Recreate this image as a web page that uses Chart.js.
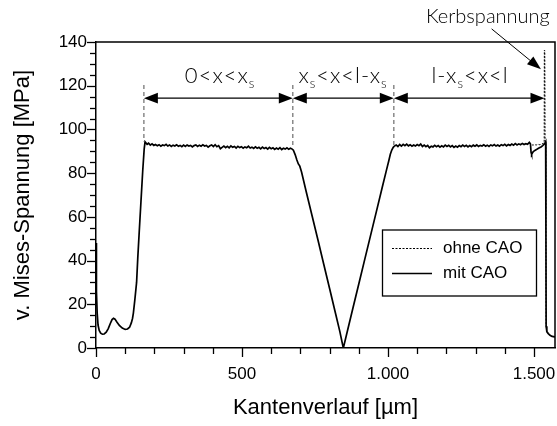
<!DOCTYPE html>
<html>
<head>
<meta charset="utf-8">
<script src="https://cdn.jsdelivr.net/npm/chart.js@4.4.1/dist/chart.umd.min.js"></script>
<style>
  html, body { margin: 0; padding: 0; background: #fff; }
  canvas { display: block; }
</style>
</head>
<body>
<canvas id="chart" width="557" height="426"></canvas>
<script>
// ---- Data: von-Mises stress along the edge [µm, MPa] ----
// "mit CAO": start-up region near x = 0
const mitStart = [
  [0,48],[1,36],[2,26],[4,16],[7,10.5],[11,8],[16,6.8],[22,6.3],[28,6.4],[35,7.2],[42,8.9],
  [49,11.2],[55,13.0],[60,13.6],[65,13.2],[72,11.8],[80,10.3],[90,9.1],[100,8.5],[108,8.7],
  [115,9.5],[121,11.5],[125,13.5],[128,16],[133,22],[139,30],[143,41],[148,53],[154,67],
  [160,81],[165,91],[168,94.3]
];
// "mit CAO": first plateau 0 < x < xs
const mitPlateau1 = [
  [175,93.2],[180,93.7],[186,92.8],[192,93.4],[198,92.7],[204,93.1],[210,92.5],[216,93.0],
  [222,92.3],[228,92.9],[234,92.6],[240,93.2],[246,92.4],[252,92.9],[258,92.2],[264,92.8],
  [270,92.4],[276,93.0],[282,92.3],[288,92.7],[294,92.1],[300,92.8],[306,92.2],[312,92.9],
  [318,92.4],[324,92.7],[330,92.0],[336,92.6],[342,92.9],[348,92.2],[354,92.8],[360,92.3],
  [366,93.0],[372,92.4],[378,92.7],[384,91.9],[390,92.5],[396,92.9],[402,92.2],[408,93.0],
  [414,92.1],[420,92.6],[426,91.2],[432,91.8],[438,92.4],[444,91.7],[450,92.3],[456,91.6],
  [462,92.5],[468,91.8],[474,92.2],[480,91.5],[486,92.3],[492,91.7],[498,92.1],[504,91.4],
  [510,92.0],[516,91.6],[522,92.3],[528,91.5],[534,91.9],[540,91.3],[546,92.0],[552,91.4],
  [558,91.8],[564,91.1],[570,91.9],[576,91.3],[582,91.7],[588,91.0],[594,91.8],[600,91.2],
  [606,91.6],[612,90.9],[618,91.5],[624,91.0],[630,91.7],[636,90.8],[642,91.4],[648,91.0],
  [654,91.6],[660,90.9],[666,91.4],[672,91.0]
];
// "mit CAO": V-shaped drop xs < x < l - xs
const mitNotch = [
  [676,90.5],[682,88.5],[688,86],[693,84.2],[698,83.2],[704,80.5],[720,71.5],[740,60.5],
  [760,49.5],[780,38.3],[800,27.2],[820,16],[835,7.6],[846,0.6],[848,0.5],[860,7.2],
  [880,18.3],[900,29.3],[920,40.3],[940,51.3],[960,62.3],[980,73.3],[995,81.5],[1003,85.8],
  [1008,88.6],[1013,90.6],[1018,91.8],[1022,92.4]
];
// "mit CAO": second plateau l - xs < x < l
const mitPlateau2 = [
  [1028,92.9],[1034,92.2],[1040,93.1],[1046,92.4],[1052,93.2],[1058,92.6],[1064,93.3],[1070,92.5],
  [1076,93.0],[1082,92.3],[1088,92.9],[1094,92.4],[1100,93.1],[1106,92.6],[1112,93.3],[1118,92.2],
  [1124,92.8],[1130,92.1],[1136,92.7],[1142,91.6],[1148,92.3],[1154,92.0],[1160,92.7],[1166,92.1],
  [1172,92.6],[1178,91.9],[1184,92.5],[1190,92.0],[1196,92.8],[1202,92.2],[1208,92.7],[1214,92.0],
  [1220,92.6],[1226,91.8],[1232,92.4],[1238,91.9],[1244,92.6],[1250,92.1],[1256,92.8],[1262,92.2],
  [1268,92.7],[1274,92.0],[1280,92.6],[1286,92.1],[1292,92.8],[1298,92.3],[1304,92.9],[1310,92.2],
  [1316,92.7],[1322,92.4],[1328,93.0],[1334,92.3],[1340,92.8],[1346,92.2],[1352,92.9],[1358,92.5],
  [1364,93.1],[1370,92.4],[1376,92.9],[1382,92.3],[1388,93.0],[1394,92.6],[1400,93.2],[1406,92.5],
  [1412,93.1],[1418,92.7],[1424,93.3],[1430,92.8],[1436,93.5],[1442,92.9],[1448,93.4],[1454,93.0],
  [1460,93.6],[1466,93.1],[1472,93.5],[1478,93.2],[1484,94.1],[1488,93.3],[1490,89.5],[1492,88.6],
  [1497,89.8],[1503,90.4],[1510,90.9],[1517,91.5],[1524,92.0],[1530,92.6],[1536,93.4],[1540,94.4]
];
// "mit CAO": free edge at x = l
const mitEdge = [
  [1541,50],[1541.6,10],[1544,7.5],[1549,6.6],[1555,5.8],[1562,5.3],[1572,5.1]
];
// "ohne CAO": differs only at the edge (notch stress peak)
const ohneEdge = [
  [1484,94.1],[1490,93.4],[1496,92.8],[1502,93.0],[1508,92.9],[1514,93.2],[1520,93.0],[1526,93.3],
  [1532,93.6],[1535,94.0],[1535.5,136.3],[1537,136.0],[1538,95],[1540.5,94.4],[1541,50],
  [1541.6,10],[1544,7.5],[1549,6.6],[1555,5.8],[1562,5.3],[1572,5.1]
];

// ---- Axes ----
const xMax = 1572;
const yMax = 140;
const xTickValues = [0, 500, 1000, 1500];
const xTickLabels = ['0', '500', '1.000', '1.500'];
const yTickValues = [0, 20, 40, 60, 80, 100, 120, 140];
const yTickLabels = ['0', '20', '40', '60', '80', '100', '120', '140'];
const xMinorStep = 100;
const yMinorStep = 5;

// ---- Annotations (data units) ----
const sectionBounds = [164, 674, 1020, 1536];  // dashed markers and arrow ends
const arrowLevel = 114.3;
const sectionLabels = [
  { x: 425,  y: 124.8, parts: [['0<x<x', false], ['s', true]] },
  { x: 846,  y: 124.8, parts: [['x', false], ['s', true], ['<x<l-x', false], ['s', true]] },
  { x: 1281, y: 124.8, parts: [['l-x', false], ['s', true], ['<x<l', false]] }
];
const notchLabel = { text: 'Kerbspannung', x: 1342, y: 151.5 };
const notchArrow = { x1: 1355, y1: 146.0, x2: 1524, y2: 127.5 };

const toPoints = arr => arr.map(([x, y]) => ({ x, y }));
const mitData = toPoints([].concat(mitStart, mitPlateau1, mitNotch, mitPlateau2, mitEdge));
const ohneData = toPoints(ohneEdge);

const AXIS_FONT = '"Liberation Sans", Arial, Helvetica, sans-serif';
const NOTE_FONT = '"Lato", "Liberation Sans", sans-serif';

function arrowHead(ctx, tx, ty, dx, dy, len, half) {
  const n = Math.hypot(dx, dy);
  const ux = dx / n, uy = dy / n;
  const bx = tx - ux * len, by = ty - uy * len;
  ctx.beginPath();
  ctx.moveTo(tx, ty);
  ctx.lineTo(bx - uy * half, by + ux * half);
  ctx.lineTo(bx + uy * half, by - ux * half);
  ctx.closePath();
  ctx.fill();
}

function drawParts(ctx, cx, cy, parts, size) {
  const main = `300 ${size}px ${NOTE_FONT}`;
  const sub = `300 ${Math.round(size * 0.6)}px ${NOTE_FONT}`;
  ctx.letterSpacing = '1px';
  let total = 0;
  parts.forEach(([t, s]) => { ctx.font = s ? sub : main; total += ctx.measureText(t).width; });
  let x = cx - total / 2;
  ctx.textBaseline = 'alphabetic';
  ctx.textAlign = 'left';
  const base = cy + size * 0.36;
  parts.forEach(([t, s]) => {
    ctx.font = s ? sub : main;
    ctx.fillText(t, x, s ? base + size * 0.22 : base);
    x += ctx.measureText(t).width;
  });
  ctx.letterSpacing = '0px';
}

// frame, outward tick marks, annotations and legend box
const decorations = {
  id: 'decorations',
  afterDraw(chart) {
    const { ctx, chartArea: a, scales: { x, y } } = chart;
    ctx.save();
    ctx.strokeStyle = '#000';
    ctx.fillStyle = '#000';

    // top and right edges of the plot frame
    ctx.lineWidth = 1.5;
    ctx.beginPath();
    ctx.moveTo(a.left, a.top);
    ctx.lineTo(a.right, a.top);
    ctx.lineTo(a.right, a.bottom);
    ctx.stroke();

    // tick marks, pointing outward
    ctx.lineWidth = 1.3;
    for (let v = 0; v <= xMax; v += xMinorStep) {
      const px = Math.round(x.getPixelForValue(v)) + 0.5;
      const len = xTickValues.includes(v) ? 9 : 6;
      ctx.beginPath();
      ctx.moveTo(px, a.bottom);
      ctx.lineTo(px, a.bottom + len);
      ctx.stroke();
    }
    for (let v = 0; v <= yMax; v += yMinorStep) {
      const py = Math.round(y.getPixelForValue(v)) + 0.5;
      const len = yTickValues.includes(v) ? 9 : 6;
      ctx.beginPath();
      ctx.moveTo(a.left, py);
      ctx.lineTo(a.left - len, py);
      ctx.stroke();
    }

    // dashed section markers
    ctx.strokeStyle = '#777';
    ctx.lineWidth = 1.3;
    ctx.setLineDash([4, 3]);
    sectionBounds.slice(0, 3).forEach((b, i) => {
      const px = x.getPixelForValue(b);
      ctx.beginPath();
      ctx.moveTo(px, y.getPixelForValue(120.3));
      ctx.lineTo(px, y.getPixelForValue(i === 0 ? 94.5 : 92.5));
      ctx.stroke();
    });
    ctx.setLineDash([]);

    // double arrows between the markers
    ctx.strokeStyle = '#000';
    ctx.lineWidth = 1.3;
    const ay = y.getPixelForValue(arrowLevel);
    for (let i = 0; i < sectionBounds.length - 1; i++) {
      const x1 = x.getPixelForValue(sectionBounds[i]);
      const x2 = x.getPixelForValue(sectionBounds[i + 1]);
      ctx.beginPath();
      ctx.moveTo(x1 + 4, ay);
      ctx.lineTo(x2 - 4, ay);
      ctx.stroke();
      arrowHead(ctx, x1, ay, -1, 0, 14, 5.3);
      arrowHead(ctx, x2, ay, 1, 0, 14, 5.3);
    }

    // section labels
    sectionLabels.forEach(l => {
      drawParts(ctx, x.getPixelForValue(l.x), y.getPixelForValue(l.y), l.parts, 22);
    });

    // notch stress label and arrow
    ctx.font = `300 20px ${NOTE_FONT}`;
    ctx.textAlign = 'center';
    ctx.textBaseline = 'middle';
    ctx.fillText(notchLabel.text, x.getPixelForValue(notchLabel.x), y.getPixelForValue(notchLabel.y));
    const sx = x.getPixelForValue(notchArrow.x1), sy = y.getPixelForValue(notchArrow.y1);
    const tx = x.getPixelForValue(notchArrow.x2), ty = y.getPixelForValue(notchArrow.y2);
    ctx.lineWidth = 1;
    ctx.beginPath();
    ctx.moveTo(sx, sy);
    ctx.lineTo(tx - (tx - sx) * 0.2, ty - (ty - sy) * 0.2);
    ctx.stroke();
    arrowHead(ctx, tx, ty, tx - sx, ty - sy, 14, 5);

    // legend box
    const lx = 382, ly = 229.5, lw = 154, lh = 66;
    ctx.lineWidth = 1.3;
    ctx.strokeRect(lx + 0.5, ly + 0.5, lw, lh);
    ctx.font = `17px ${AXIS_FONT}`;
    ctx.textAlign = 'left';
    ctx.textBaseline = 'middle';
    chart.data.datasets.forEach((ds, i) => {
      const ry = ly + 19 + i * 25;
      ctx.strokeStyle = ds.borderColor;
      ctx.lineWidth = ds.borderWidth;
      ctx.setLineDash(ds.borderDash || []);
      ctx.beginPath();
      ctx.moveTo(lx + 10, ry);
      ctx.lineTo(lx + 50, ry);
      ctx.stroke();
      ctx.setLineDash([]);
      ctx.fillText(ds.label, lx + 61, ry);
    });
    ctx.restore();
  }
};

new Chart(document.getElementById('chart'), {
  type: 'line',
  data: {
    datasets: [
      {
        label: 'ohne CAO',
        data: ohneData,
        borderColor: '#000',
        borderWidth: 1,
        borderDash: [2, 1.5],
        pointRadius: 0,
        tension: 0,
        order: 2
      },
      {
        label: 'mit CAO',
        data: mitData,
        borderColor: '#000',
        borderWidth: 1.7,
        pointRadius: 0,
        tension: 0,
        order: 1
      }
    ]
  },
  options: {
    responsive: false,
    devicePixelRatio: 1,
    animation: false,
    events: [],
    layout: { padding: { top: 42, right: 2, bottom: 0, left: 0 } },
    plugins: { legend: { display: false }, tooltip: { enabled: false } },
    scales: {
      x: {
        type: 'linear',
        min: 0,
        max: xMax,
        afterBuildTicks: s => { s.ticks = xTickValues.map(v => ({ value: v })); },
        afterFit: s => { s.height = 78; s.paddingLeft = 0; s.paddingRight = 0; },
        grid: { display: false, drawTicks: false },
        border: { display: true, color: '#000', width: 1.5 },
        ticks: {
          callback: v => xTickLabels[xTickValues.indexOf(v)],
          font: { family: AXIS_FONT, size: 17 },
          color: '#000',
          padding: 16,
          maxRotation: 0,
          autoSkip: false
        },
        title: {
          display: true,
          text: 'Kantenverlauf [µm]',
          font: { family: AXIS_FONT, size: 22 },
          color: '#000',
          padding: { top: 0, bottom: 5 }
        }
      },
      y: {
        type: 'linear',
        min: 0,
        max: yMax,
        afterBuildTicks: s => { s.ticks = yTickValues.map(v => ({ value: v })); },
        afterFit: s => { s.width = 96; s.paddingTop = 0; s.paddingBottom = 0; },
        grid: { display: false, drawTicks: false },
        border: { display: true, color: '#000', width: 1.5 },
        ticks: {
          callback: v => yTickLabels[yTickValues.indexOf(v)],
          font: { family: AXIS_FONT, size: 17 },
          color: '#000',
          padding: 9
        },
        title: {
          display: true,
          text: 'v. Mises-Spannung [MPa]',
          font: { family: AXIS_FONT, size: 22 },
          color: '#000',
          padding: { top: 10, bottom: 0 }
        }
      }
    }
  },
  plugins: [decorations]
});
</script>
</body>
</html>
